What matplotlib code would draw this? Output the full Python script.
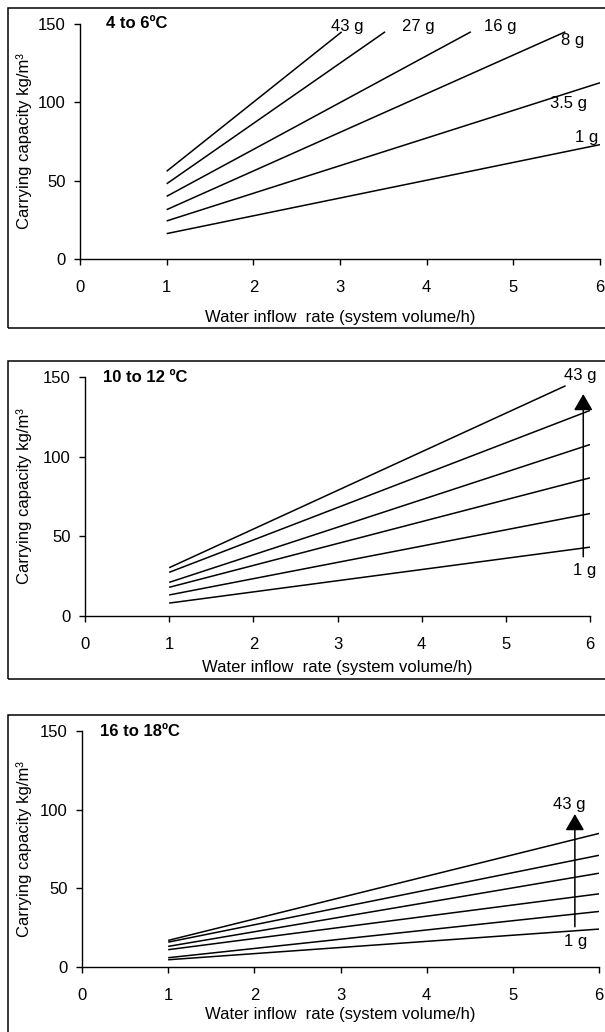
import matplotlib
matplotlib.use("Agg")
import matplotlib.pyplot as plt
from matplotlib.patches import Rectangle

plt.rcParams['font.family'] = ['Liberation Sans', 'DejaVu Sans']

W, H = 605, 1032
FS = 12

# ---- data ----
x_ticks = [0, 1, 2, 3, 4, 5, 6]
y_ticks = [0, 50, 100, 150]
weights = ['1 g', '3.5 g', '8 g', '16 g', '27 g', '43 g']

# 4 to 6 C : lines from flow 1 to flow end
p1_title = '4 to 6\u00baC'
p1_flow_start = [1, 1, 1, 1, 1, 1]
p1_flow_end = [6, 6, 5.6, 4.51, 3.52, 3.02]
p1_cap_start = [16.2, 24.3, 31.5, 40, 48, 56]
p1_cap_end = [73, 112.5, 145, 145, 145, 145]
p1_label_x = [5.85, 5.64, 5.68, 4.85, 3.9, 3.08]
p1_label_y = [77.6, 99.4, 139.5, 148.7, 148.7, 148.7]

# 10 to 12 C
p2_title = '10 to 12 \u00baC'
p2_flow_start = [1, 1, 1, 1, 1, 1]
p2_flow_end = [6, 6, 6, 6, 6, 5.71]
p2_cap_start = [8.1, 13.2, 18.0, 21.1, 27.4, 30.3]
p2_cap_end = [43.2, 64.3, 86.7, 107.6, 129, 144.5]
p2_arrow_x = 5.92
p2_arrow_y = [37.2, 139.3]
p2_low_label = (5.94, 28.6)
p2_high_label = (5.88, 150.9)

# 16 to 18 C
p3_title = '16 to 18\u00baC'
p3_flow_start = [1, 1, 1, 1, 1, 1]
p3_flow_end = [6, 6, 6, 6, 6, 6]
p3_cap_start = [4.6, 5.9, 11, 13.1, 15.8, 16.9]
p3_cap_end = [24.1, 35.3, 46.5, 59.6, 71, 84.9]
p3_arrow_x = 5.72
p3_arrow_y = [25.6, 97.2]
p3_low_label = (5.73, 16.1)
p3_high_label = (5.65, 103)

fig = plt.figure(figsize=(W / 100, H / 100), dpi=100)


def fx(px):
    return px / W


def fy(py):
    return 1 - py / H


def make_axes(left, right, top, bottom, frame_top, frame_bottom, title, title_x, xlab_top):
    # panel frame (runs off the right edge)
    fig.patches.append(Rectangle((fx(8), fy(frame_bottom)), 1.2, fy(frame_top) - fy(frame_bottom),
                                 transform=fig.transFigure, fill=False, lw=1.1, ec='black'))
    ax = fig.add_axes([fx(left), fy(bottom), fx(right) - fx(left), fy(top) - fy(bottom)])
    ax.set_xlim(0, 6)
    ax.set_ylim(0, 150)
    ax.set_xticks(x_ticks)
    ax.set_yticks(y_ticks)
    for s in ['top', 'right']:
        ax.spines[s].set_visible(False)
    for s in ['left', 'bottom']:
        ax.spines[s].set_linewidth(1.0)
    ax.tick_params(axis='x', direction='out', length=4, width=1.0, pad=11, labelsize=FS)
    ax.tick_params(axis='y', direction='out', length=4, width=1.0, pad=6.5, labelsize=FS)
    ax.set_facecolor('none')
    h = bottom - top
    w = right - left
    ax.set_xlabel('Water inflow  rate (system volume/h)', fontsize=FS)
    ax.xaxis.set_label_coords(0.5, -(xlab_top - bottom) / h)
    ax.set_ylabel('Carrying capacity kg/m\u00b3', fontsize=FS)
    ax.yaxis.set_label_coords((24 - left) / w, 0.5)
    ax.yaxis.label.set_va('center')
    ax.text(title_x, 150, title, fontsize=FS, fontweight='bold', ha='left', va='center')
    return ax


def draw_lines(ax, xs, xe, ys, ye):
    for a, b, c, d in zip(xs, xe, ys, ye):
        ax.plot([a, b], [c, d], color='black', lw=1.1, solid_capstyle='butt')


def draw_arrow(ax, x, yrange):
    ax.annotate('', xy=(x, yrange[1]), xytext=(x, yrange[0]),
                arrowprops=dict(arrowstyle='-|>,head_length=0.5,head_width=0.29',
                                mutation_scale=20, color='black', lw=1.1,
                                shrinkA=0, shrinkB=0))


# panel 1
ax1 = make_axes(80, 600, 24, 259, 8, 328, p1_title, 0.3, 310)
draw_lines(ax1, p1_flow_start, p1_flow_end, p1_cap_start, p1_cap_end)
for lab, lx, ly in zip(weights, p1_label_x, p1_label_y):
    ax1.text(lx, ly, lab, fontsize=FS, ha='center', va='center')

# panel 2
ax2 = make_axes(85, 590, 377, 616, 361, 679, p2_title, 0.21, 660)
draw_lines(ax2, p2_flow_start, p2_flow_end, p2_cap_start, p2_cap_end)
draw_arrow(ax2, p2_arrow_x, p2_arrow_y)
ax2.text(*p2_low_label, weights[0], fontsize=FS, ha='center', va='center')
ax2.text(*p2_high_label, weights[-1], fontsize=FS, ha='center', va='center')

# panel 3
ax3 = make_axes(82, 599, 731, 967, 715, 1040, p3_title, 0.21, 1007)
draw_lines(ax3, p3_flow_start, p3_flow_end, p3_cap_start, p3_cap_end)
draw_arrow(ax3, p3_arrow_x, p3_arrow_y)
ax3.text(*p3_low_label, weights[0], fontsize=FS, ha='center', va='center')
ax3.text(*p3_high_label, weights[-1], fontsize=FS, ha='center', va='center')

fig.savefig('out.png', dpi=100)
